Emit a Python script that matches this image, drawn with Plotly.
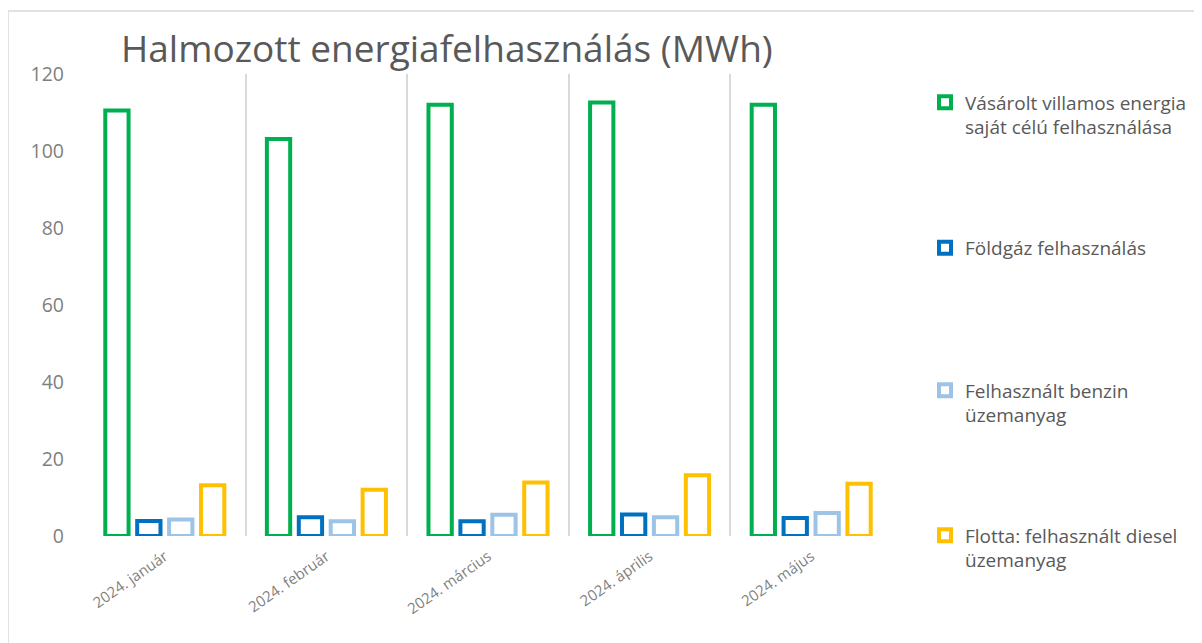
import plotly.graph_objects as go

months = ["2024. január", "2024. február", "2024. március", "2024. április", "2024. május"]

series_names = [
    "Vásárolt villamos energia<br>saját célú felhasználása",
    "Földgáz felhasználás",
    "Felhasznált benzin<br>üzemanyag",
    "Flotta: felhasznált diesel<br>üzemanyag",
]
villamos = [110.5, 103.1, 112.0, 112.6, 112.0]
foldgaz = [3.9, 4.9, 3.8, 5.6, 4.7]
benzin = [4.3, 3.8, 5.5, 4.9, 6.0]
diesel = [13.2, 12.0, 13.9, 15.8, 13.6]
series_values = [villamos, foldgaz, benzin, diesel]
series_colors = ["#00B050", "#0070C0", "#9DC3E6", "#FFC000"]

y_ticks = [0, 20, 40, 60, 80, 100, 120]

# page body has an 8px margin; work in screen pixels and convert
OFF = 8
W, H = 1202 - OFF, 643 - OFF
PL, PR, PT, PB = 84, 892, 74, 536  # plot area in screen px
L, R, T, B = PL - OFF, W - (PR - OFF), PT - OFF, H - (PB - OFF)
pw, ph = W - L - R, H - T - B

def px_x(px):
    return (px - OFF - L) / pw

def px_y(py):
    return (H - B - (py - OFF)) / ph

FONT = "Open Sans"
GRAY = "#7F7F7F"

fig = go.Figure()
legend_names = ["legend", "legend2", "legend3", "legend4"]
for name, vals, col, lg in zip(series_names, series_values, series_colors, legend_names):
    fig.add_trace(go.Bar(
        x=months, y=vals, name=name,
        marker=dict(color="white", line=dict(color=col, width=4)),
        legend=lg, hoverinfo="x+y+name",
    ))

# vertical centre of each legend block (screen px)
legend_centres = [115, 248, 403, 548]
legend_common = dict(
    xanchor="left", yanchor="middle", x=px_x(925),
    bgcolor="rgba(0,0,0,0)", borderwidth=0,
    font=dict(family=FONT, size=19, color="#595959"),
    valign="top", itemwidth=30, itemclick=False, itemdoubleclick=False,
)
leg_layout = {}
for lg, c in zip(legend_names, legend_centres):
    d = dict(legend_common)
    d["y"] = px_y(c)
    leg_layout[lg] = d

fig.update_layout(
    width=W, height=H,
    margin=dict(l=L, r=R, t=T, b=B, autoexpand=False),
    paper_bgcolor="white", plot_bgcolor="white",
    barmode="group", bargap=0.21, bargroupgap=0.27,
    title=dict(
        text="Halmozott energiafelhasználás (MWh)",
        font=dict(family=FONT, size=37, color="#595959"),
        x=px_x(121), xanchor="left", xref="paper",
        y=1 - (49 - OFF) / H, yanchor="middle", yref="container",
    ),
    xaxis=dict(
        type="category", tickson="boundaries",
        showgrid=True, gridcolor="#D9D9D9", gridwidth=1.5,
        showline=False, zeroline=False, ticks="",
        tickangle=-35, ticklabelstandoff=8,
        tickfont=dict(family=FONT, size=15, color=GRAY),
    ),
    yaxis=dict(
        range=[0, 120], tickvals=y_ticks, showgrid=False, zeroline=False,
        showline=False, ticks="", ticklabelstandoff=19,
        tickfont=dict(family=FONT, size=19.5, color=GRAY),
    ),
    showlegend=True,
    shapes=[
        dict(type="line", xref="paper", yref="paper",
             x0=px_x(8), x1=px_x(8), y0=px_y(11), y1=px_y(660),
             line=dict(color="#D9D9D9", width=1.5)),
        dict(type="line", xref="paper", yref="paper",
             x0=px_x(8), x1=px_x(1220), y0=px_y(11), y1=px_y(11),
             line=dict(color="#D9D9D9", width=1.5)),
    ],
    **leg_layout,
)

fig.write_html("out.html")
